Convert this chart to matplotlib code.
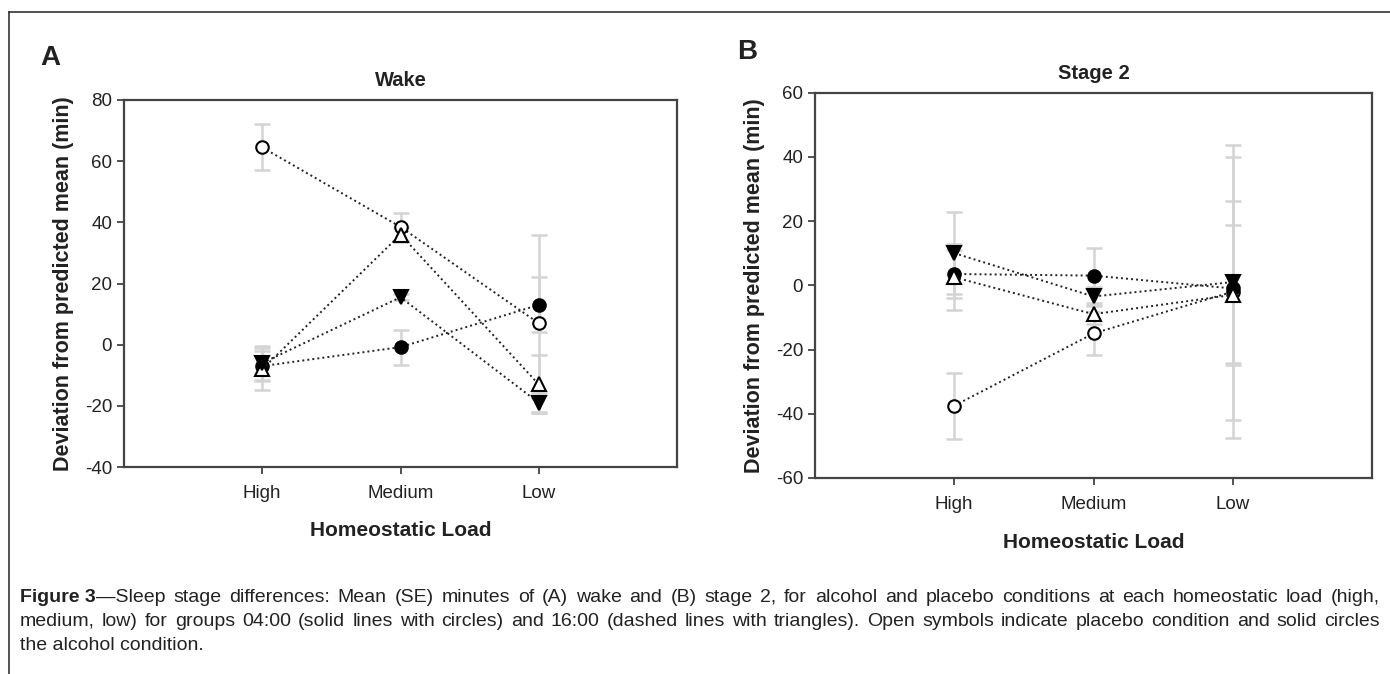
import matplotlib
matplotlib.use("Agg")
import matplotlib.pyplot as plt
from matplotlib import font_manager as fm
import numpy as np

# ---------------- data ----------------
categories = ["High", "Medium", "Low"]

# Panel A: Wake
wake_placebo_0400 = [64.5, 38.5, 7.0]      # open circles
wake_placebo_0400_se = [7.5, 4.7, 29.0]
wake_alcohol_0400 = [-7.0, -0.8, 13.0]     # filled circles
wake_alcohol_0400_se = [5.0, 5.7, 9.0]
wake_placebo_1600 = [-8.0, 36.0, -13.0]    # open triangles
wake_placebo_1600_se = [6.8, 2.5, 9.5]
wake_alcohol_1600 = [-6.0, 15.5, -19.0]    # filled triangles
wake_alcohol_1600_se = [5.5, 1.0, 3.3]

# Panel B: Stage 2
s2_placebo_0400 = [-37.5, -15.0, -2.0]
s2_placebo_0400_se = [10.3, 6.7, 45.6]
s2_alcohol_0400 = [3.5, 3.0, -1.0]
s2_alcohol_0400_se = [7.6, 8.5, 41.0]
s2_placebo_1600 = [2.5, -9.0, -3.0]
s2_placebo_1600_se = [10.2, 3.0, 21.8]
s2_alcohol_1600 = [10.0, -3.5, 1.0]
s2_alcohol_1600_se = [12.7, 3.0, 25.3]

caption_bold = "Figure 3"
caption_line1 = ("\u2014Sleep stage differences: Mean (SE) minutes of (A) wake and (B) stage 2, for alcohol and placebo "
                 "conditions at each homeostatic load (high,")
caption_line2 = ("medium, low) for groups 04:00 (solid lines with circles) and 16:00 (dashed lines with triangles). "
                 "Open symbols indicate placebo condition and solid circles")
caption_line3 = "the alcohol condition."

# ---------------- fonts ----------------
names = {f.name for f in fm.fontManager.ttflist}
fam = ["Liberation Sans Narrow"] if "Liberation Sans Narrow" in names else []
fam += ["Liberation Sans", "DejaVu Sans"]
plt.rcParams["font.family"] = fam
plt.rcParams["axes.unicode_minus"] = False

W, H = 1390, 674
fig = plt.figure(figsize=(W / 100, H / 100), dpi=100)

# figure frame (left and top)
fig.add_artist(plt.Line2D([9 / W, 9 / W], [0, 1 - 12 / H], color="#333333", lw=1.2))
fig.add_artist(plt.Line2D([9 / W, 1], [1 - 12 / H, 1 - 12 / H], color="#333333", lw=1.2))

axA = fig.add_axes([124 / W, 1 - 467 / H, 553 / W, 367 / H])
axB = fig.add_axes([815 / W, 1 - 478 / H, 557 / W, 385.5 / H])

x = np.arange(1, len(categories) + 1)

styles = [
    dict(marker="o", mfc="white", mec="black", ms=9),
    dict(marker="o", mfc="black", mec="black", ms=9),
    dict(marker="^", mfc="white", mec="black", ms=10),
    dict(marker="v", mfc="black", mec="black", ms=10),
]


def panel(ax, series, ylim, yticks, title):
    for (vals, se), st in zip(series, styles):
        ax.errorbar(x, vals, yerr=se, fmt="none", ecolor="#d4d4d4", elinewidth=1.8,
                    capsize=6, capthick=1.8, zorder=1)
    for (vals, se), st in zip(series, styles):
        ax.plot(x, vals, linestyle=(0, (1, 1.6)), color="#222222", lw=1.4, zorder=3,
                mew=1.5, **st)
    ax.set_xlim(0, 4)
    ax.set_ylim(*ylim)
    ax.set_yticks(yticks)
    ax.set_xticks(x)
    ax.set_xticklabels(categories)
    for s in ax.spines.values():
        s.set_color("#444444")
        s.set_linewidth(1.6)
    ax.tick_params(axis="both", labelsize=13.5, length=5, width=1.3, color="#444444",
                   labelcolor="#222222")
    ax.tick_params(axis="x", pad=8)
    ax.set_title(title, fontsize=14.5, fontweight="bold", color="#222222", pad=10)
    ax.set_xlabel("Homeostatic Load", fontsize=15, fontweight="bold", color="#222222", labelpad=14)
    ax.set_ylabel("Deviation from predicted mean (min)", fontsize=15.5, fontweight="bold",
                  color="#222222", labelpad=8)


panel(axA,
      [(wake_placebo_0400, wake_placebo_0400_se), (wake_alcohol_0400, wake_alcohol_0400_se),
       (wake_placebo_1600, wake_placebo_1600_se), (wake_alcohol_1600, wake_alcohol_1600_se)],
      (-40, 80), np.arange(-40, 81, 20), "Wake")
panel(axB,
      [(s2_placebo_0400, s2_placebo_0400_se), (s2_alcohol_0400, s2_alcohol_0400_se),
       (s2_placebo_1600, s2_placebo_1600_se), (s2_alcohol_1600, s2_alcohol_1600_se)],
      (-60, 60), np.arange(-60, 61, 20), "Stage 2")

fig.text(40 / W, 1 - 58 / H, "A", fontsize=20, fontweight="bold", color="#222222", va="center")
fig.text(737 / W, 1 - 52 / H, "B", fontsize=20, fontweight="bold", color="#222222", va="center")

# caption (justified lines)
fig.canvas.draw()
renderer = fig.canvas.get_renderer()
CAP_FS = 14
X0, X1 = 20, 1380
cap_y = [597, 621, 645]


def width_px(s, weight="normal"):
    t = fig.text(0, 0, s, fontsize=CAP_FS, fontweight=weight)
    w = t.get_window_extent(renderer).width
    t.remove()
    return w


def justified(words, y, start_x, first_width=None):
    ws = [width_px(w) for w in words]
    if first_width is not None:
        ws[0] = first_width
    gap = (X1 - start_x - sum(ws)) / max(len(words) - 1, 1)
    cx = start_x
    for i, (w, wd) in enumerate(zip(words, ws)):
        if not (i == 0 and first_width is not None):
            fig.text(cx / W, 1 - y / H, w, fontsize=CAP_FS, color="#222222", va="center")
        cx += wd + gap


wb = width_px(caption_bold, "bold")
fig.text(X0 / W, 1 - cap_y[0] / H, caption_bold, fontsize=CAP_FS, fontweight="bold",
         color="#222222", va="center")
rest1 = caption_line1.split()
first_w = width_px(rest1[0])
fig.text((X0 + wb) / W, 1 - cap_y[0] / H, rest1[0], fontsize=CAP_FS, color="#222222", va="center")
justified(["_"] + rest1[1:], cap_y[0], X0, first_width=wb + first_w)
justified(caption_line2.split(), cap_y[1], X0)
fig.text(X0 / W, 1 - cap_y[2] / H, caption_line3, fontsize=CAP_FS, color="#222222", va="center")

fig.savefig("out.png", dpi=100)
